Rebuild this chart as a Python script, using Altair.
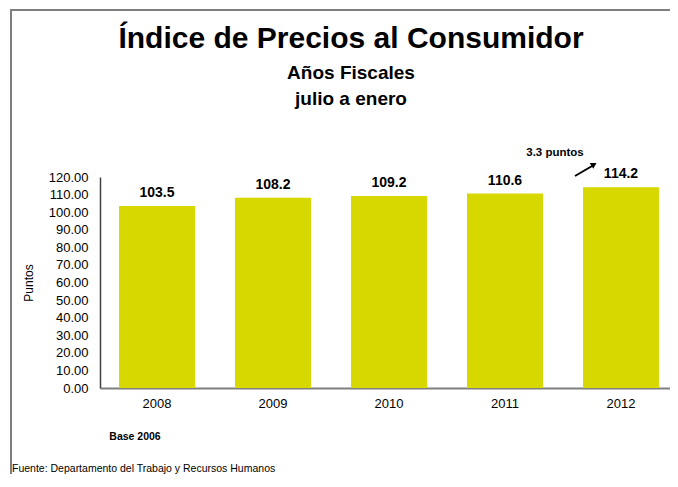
import altair as alt
import pandas as pd

years = ["2008", "2009", "2010", "2011", "2012"]
values = [103.5, 108.2, 109.2, 110.6, 114.2]
labels = ["103.5", "108.2", "109.2", "110.6", "114.2"]
y_ticks = [0, 10, 20, 30, 40, 50, 60, 70, 80, 90, 100, 110, 120]

title_text = "Índice de Precios al Consumidor"
subtitle1 = "Años Fiscales"
subtitle2 = "julio a enero"
note_text = "3.3 puntos"
base_text = "Base 2006"
source_text = "Fuente: Departamento del Trabajo y Recursos Humanos"

df = pd.DataFrame({"year": years, "value": values, "label": labels})

FONT = "Liberation Sans"
BAR = "#D6D800"

W, H = 578, 211

x_enc = alt.X(
    "year:N",
    sort=years,
    scale=alt.Scale(paddingInner=0.345, paddingOuter=0.164, range=[0, W]),
    axis=alt.Axis(
        title=None, labelAngle=0, labelFontSize=13, labelColor="#000000",
        labelFont=FONT, labelPadding=9, ticks=False,
        domainColor="#7f7f7f", domainWidth=2,
    ),
)
y_enc = alt.Y(
    "value:Q",
    scale=alt.Scale(domain=[0, 120], nice=False),
    axis=alt.Axis(
        title="Puntos", values=y_ticks, format=".2f",
        labelFontSize=13, labelFont=FONT, labelColor="#000000", labelPadding=12,
        labelOverlap=False, labelBound=False,
        ticks=False, grid=False, domainColor="#404040", domainWidth=1.5,
        titleFont=FONT, titleFontSize=12, titleFontWeight="normal",
        titleX=-72, titleY=H / 2, titleAngle=270, titleAlign="center",
        titleBaseline="middle", titleColor="#000000",
    ),
)

base = alt.Chart(df)

bars = base.mark_bar(color=BAR).encode(x=x_enc, y=y_enc)

bar_labels = base.mark_text(
    font=FONT, fontSize=14, fontWeight="bold", baseline="bottom", dy=-6, color="#000000"
).encode(x=x_enc, y=y_enc, text="label:N")

def txt(text, x, y, size, weight="bold", align="center", baseline="middle"):
    return alt.Chart(pd.DataFrame({"t": [text]})).mark_text(
        font=FONT, fontSize=size, fontWeight=weight, align=align,
        baseline=baseline, color="#000000"
    ).encode(x=alt.value(x), y=alt.value(y), text="t:N")

title = txt(title_text, 251, -129, 30, baseline="alphabetic")
sub1 = txt(subtitle1, 251, -104, 19)
sub2 = txt(subtitle2, 251, -78, 19)
note = txt(note_text, 455, -24, 11.5)
base_note = txt(base_text, 35, 260, 10.5)
source = txt(source_text, -88, 292, 10.5, weight="normal", align="left")

arrow_line = alt.Chart(pd.DataFrame({"a": [0]})).mark_rule(
    color="#000000", strokeWidth=2
).encode(x=alt.value(475), y=alt.value(-1), x2=alt.value(493), y2=alt.value(-11.5))
arrow_head = alt.Chart(pd.DataFrame({"a": [0]})).mark_point(
    shape="triangle-up", filled=True, color="#000000", size=45, angle=59, opacity=1
).encode(x=alt.value(494), y=alt.value(-12.5))

frame = alt.Chart(pd.DataFrame({"a": [0]})).mark_rect(
    fill=None, stroke="#7f7f7f", strokeWidth=2
).encode(x=alt.value(-89), x2=alt.value(700), y=alt.value(-167), y2=alt.value(400))

chart = alt.layer(
    bars, bar_labels, title, sub1, sub2, note, arrow_line, arrow_head,
    base_note, source, frame
).properties(
    width=570, height=H,
    autosize=alt.AutoSizeParams(type="none"),
    padding={"left": 92, "top": 169, "right": 0, "bottom": 86},
).configure(
    background="#ffffff",
    view=alt.ViewConfig(stroke=None),
    axisY=alt.AxisConfig(labelOverlap=False),
)

chart.save("out.html", embed_options={"renderer": "svg", "actions": False})
